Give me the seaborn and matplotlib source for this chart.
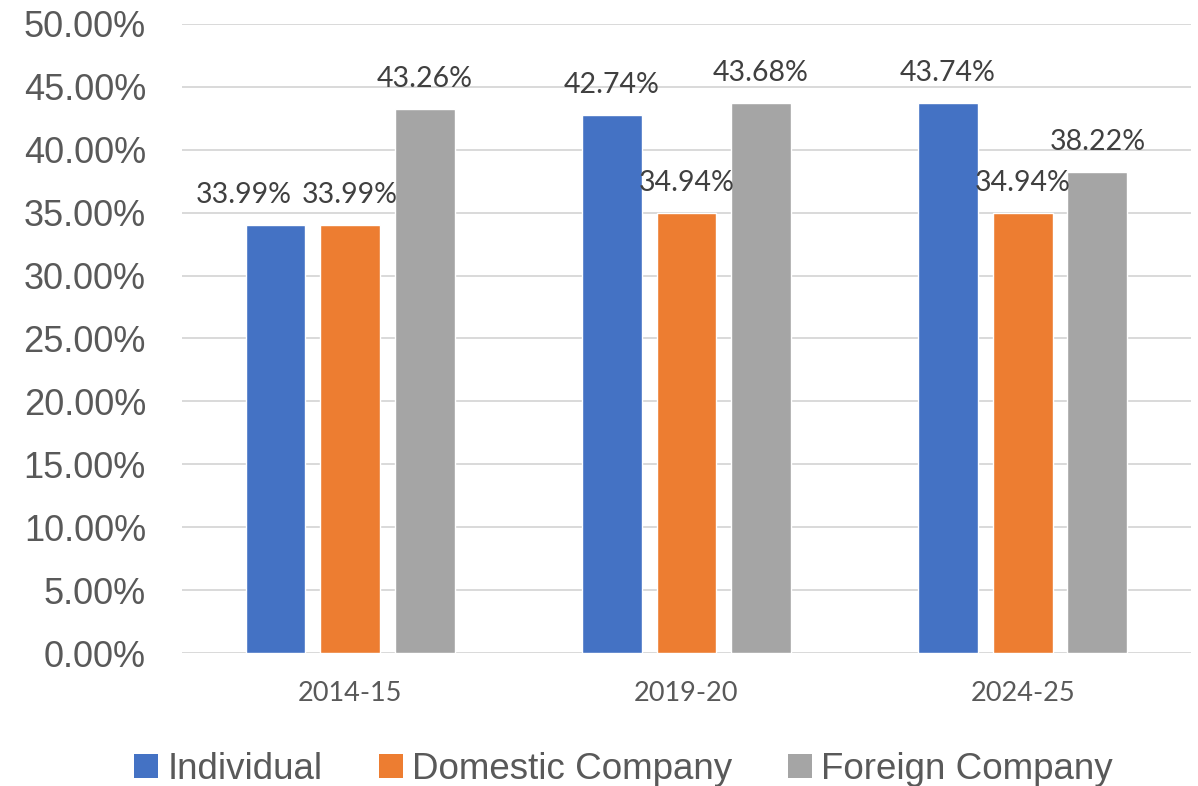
import matplotlib
matplotlib.use("Agg")
import matplotlib.pyplot as plt
import seaborn as sns
import pandas as pd
from matplotlib.patches import Patch
from matplotlib.ticker import FuncFormatter, MultipleLocator

years = ["2014-15", "2019-20", "2024-25"]
categories = ["Individual", "Domestic Company", "Foreign Company"]
individual = [33.99, 42.74, 43.74]
domestic = [33.99, 34.94, 34.94]
foreign = [43.26, 43.68, 38.22]
colors = ["#4472C4", "#ED7D31", "#A5A5A5"]

rows = []
for cat, vals in zip(categories, [individual, domestic, foreign]):
    for y, v in zip(years, vals):
        rows.append({"Year": y, "Category": cat, "Rate": v / 100.0})
df = pd.DataFrame(rows)

sns.set_style("white")
plt.rcParams["font.family"] = ["Liberation Sans", "DejaVu Sans"]

fig = plt.figure(figsize=(11.98, 7.86), dpi=100)
ax = fig.add_axes([0.152, 0.1692, 0.842, 0.8003])

sns.barplot(data=df, x="Year", y="Rate", hue="Category", order=years,
            hue_order=categories, palette=colors, width=0.666, gap=0.2,
            saturation=1, ax=ax, legend=False, errorbar=None)

ax.set_ylim(0, 0.5)
ax.set_xlim(-0.5, 2.5)
ax.yaxis.set_major_locator(MultipleLocator(0.05))
ax.yaxis.set_major_formatter(FuncFormatter(lambda v, p: f"{v*100:.2f}%"))
ax.grid(axis="y", color="#d9d9d9", linewidth=1.4)
ax.set_axisbelow(True)
for s in ax.spines.values():
    s.set_visible(False)
ax.set_xlabel("")
ax.set_ylabel("")
ax.tick_params(axis="y", length=0, pad=26, labelsize=26, labelcolor="#595959")
ax.tick_params(axis="x", length=0, pad=20, labelsize=19.5, labelcolor="#595959")
for lab in ax.get_xticklabels():
    lab.set_fontfamily(["Lato", "DejaVu Sans"])

# data labels
xoffsets = {(0, 0): -32}
for ci, cont in enumerate(ax.containers):
    for bi, bar in enumerate(cont):
        h = bar.get_height()
        xc = bar.get_x() + bar.get_width() / 2
        ax.annotate(f"{h*100:.2f}%", (xc, h),
                    xytext=(xoffsets.get((ci, bi), 0), 30),
                    textcoords="offset pixels", ha="center", va="center",
                    fontsize=20.5, color="#404040", family=["Lato", "DejaVu Sans"])

handles = [Patch(facecolor=c, edgecolor="none") for c in colors]
fig.legend(handles, categories, loc="center", bbox_to_anchor=(0.5205, 0.021),
           ncol=3, frameon=False, fontsize=26.5, labelcolor="#595959",
           handlelength=0.65, handleheight=0.65, handletextpad=0.25,
           columnspacing=1.52)

fig.savefig("out.png", dpi=100)
